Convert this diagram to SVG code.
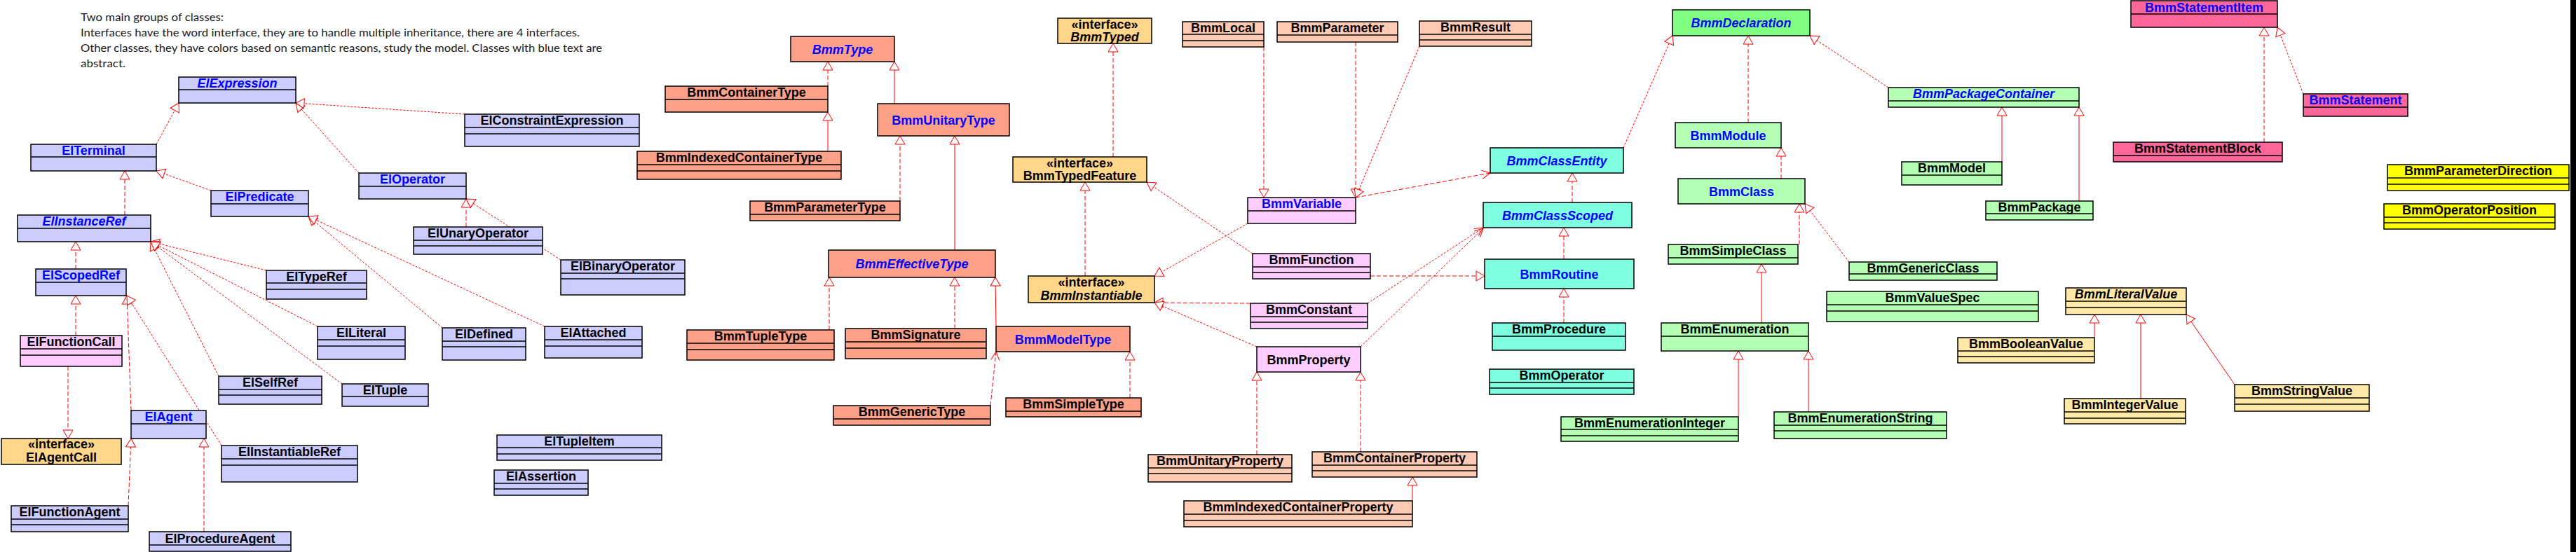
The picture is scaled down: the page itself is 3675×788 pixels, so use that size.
<svg xmlns="http://www.w3.org/2000/svg" width="3675" height="788" viewBox="0 0 3675 788">
<style>
rect{stroke:#000;stroke-width:1.5}
rect.bg{stroke:none}
.dv{stroke:#000;stroke-width:1.5}
.lav{fill:#CCCCFF}.pnk{fill:#FFCCFF}.ora{fill:#FFD68A}.sal{fill:#FFA088}.pch{fill:#FFCAB4}
.cya{fill:#7FFFE0}.grn{fill:#80FF80}.lgr{fill:#B4FFB4}.lye{fill:#FFE8A8}.hpk{fill:#FF6699}.yel{fill:#FFFF00}
text.n{font-family:"Liberation Sans",Arial,sans-serif;font-weight:bold;font-size:18px;text-anchor:middle;fill:#000}
text.b{fill:#0000FF}
text.i{font-style:italic}
.note{font-family:Lato,"Open Sans",sans-serif;font-size:15px;fill:#1a1a1a}
#connectors line{stroke:#FF0000;stroke-width:1;fill:none}
.d{stroke-dasharray:6 3}
.f{stroke-dasharray:3 2}
.t{marker-end:url(#tri)}
.a{marker-end:url(#arr)}
</style>
<defs>
<marker id="tri" viewBox="-14 -9 16 18" refX="0" refY="0" markerWidth="16" markerHeight="18" markerUnits="userSpaceOnUse" orient="auto"><path d="M0,0 L-12,-7 L-12,7 Z" fill="#fff" stroke="#f00" stroke-width="1"/></marker>
<marker id="arr" viewBox="-14 -9 16 18" refX="0" refY="0" markerWidth="16" markerHeight="18" markerUnits="userSpaceOnUse" orient="auto"><path d="M-12,-6 L0,0 L-12,6" fill="none" stroke="#f00" stroke-width="1"/></marker>
</defs>
<rect class="bg" x="0" y="0" width="3675" height="788" fill="#fff"/>
<rect class="bg" x="3667" y="0" width="8" height="788" fill="#000"/>
<g id="note">
<text class="note" x="115" y="30" textLength="204" lengthAdjust="spacingAndGlyphs">Two main groups of classes:</text>
<text class="note" x="115" y="52" textLength="712" lengthAdjust="spacingAndGlyphs">Interfaces have the word interface, they are to handle multiple inheritance, there are 4 interfaces.</text>
<text class="note" x="115" y="74" textLength="744" lengthAdjust="spacingAndGlyphs">Other classes, they have colors based on semantic reasons, study the model. Classes with blue text are</text>
<text class="note" x="115" y="96" textLength="64" lengthAdjust="spacingAndGlyphs">abstract.</text>
</g>
<g id="connectors">
<line class="f t" x1="223" y1="206" x2="255" y2="147"/>
<line class="f t" x1="512" y1="247" x2="422" y2="147"/>
<line class="f t" x1="663" y1="163" x2="422" y2="147"/>
<line class="f t" x1="301" y1="272" x2="223" y2="244"/>
<line class="d t" x1="178" y1="307" x2="178" y2="244"/>
<line class="d t" x1="108" y1="384" x2="108" y2="345"/>
<line class="f t" x1="380" y1="386" x2="215" y2="345"/>
<line class="f t" x1="453" y1="466" x2="215" y2="345"/>
<line class="f t" x1="312" y1="537" x2="215" y2="345"/>
<line class="f t" x1="488" y1="548" x2="215" y2="345"/>
<line class="d t" x1="108" y1="479" x2="108" y2="422"/>
<line class="d t" x1="97" y1="523" x2="97" y2="626"/>
<line class="d t" x1="187" y1="586" x2="181" y2="422"/>
<line class="f t" x1="316" y1="636" x2="181" y2="422"/>
<line class="d t" x1="183" y1="722" x2="187" y2="626"/>
<line class="d t" x1="291" y1="759" x2="291" y2="626"/>
<line class="d t" x1="665" y1="324" x2="665" y2="284"/>
<line class="f t" x1="800" y1="371" x2="665" y2="284"/>
<line class="f t" x1="631" y1="468" x2="440" y2="309"/>
<line class="f t" x1="777" y1="466" x2="440" y2="309"/>
<line class="d t" x1="1181" y1="123" x2="1181" y2="88"/>
<line class="t" x1="1181" y1="216" x2="1181" y2="160"/>
<line class="t" x1="1276" y1="148" x2="1276" y2="88"/>
<line class="d t" x1="1284" y1="287" x2="1284" y2="194"/>
<line class="t" x1="1362" y1="357" x2="1362" y2="194"/>
<line class="d t" x1="1183" y1="471" x2="1183" y2="396"/>
<line class="d t" x1="1362" y1="469" x2="1362" y2="396"/>
<line class="t" x1="1421" y1="466" x2="1420" y2="396"/>
<line class="d a" x1="1413" y1="579" x2="1421" y2="502"/>
<line class="d t" x1="1612" y1="568" x2="1612" y2="502"/>
<line class="d t" x1="1588" y1="224" x2="1588" y2="62"/>
<line class="d t" x1="1548" y1="394" x2="1548" y2="260"/>
<line class="f t" x1="1787" y1="362" x2="1636" y2="260"/>
<line class="f t" x1="1780" y1="319" x2="1647" y2="394"/>
<line class="d t" x1="1784" y1="433" x2="1647" y2="432"/>
<line class="f t" x1="1793" y1="495" x2="1647" y2="432"/>
<line class="d t" x1="1803" y1="67" x2="1803" y2="282"/>
<line class="d t" x1="1934" y1="60" x2="1934" y2="282"/>
<line class="f t" x1="2025" y1="66" x2="1934" y2="282"/>
<line class="d a" x1="1934" y1="282" x2="2126" y2="247"/>
<line class="d t" x1="2243" y1="289" x2="2243" y2="247"/>
<line class="f t" x1="2316" y1="211" x2="2386" y2="51"/>
<line class="d t" x1="2231" y1="370" x2="2231" y2="325"/>
<line class="d t" x1="1955" y1="394" x2="2118" y2="394"/>
<line class="f a" x1="1951" y1="433" x2="2116" y2="325"/>
<line class="f a" x1="1941" y1="495" x2="2116" y2="326"/>
<line class="d t" x1="1793" y1="649" x2="1793" y2="531"/>
<line class="d t" x1="1941" y1="645" x2="1941" y2="531"/>
<line class="t" x1="2015" y1="715" x2="2015" y2="681"/>
<line class="d t" x1="2231" y1="461" x2="2231" y2="412"/>
<line class="d t" x1="2494" y1="175" x2="2494" y2="51"/>
<line class="f t" x1="2694" y1="125" x2="2582" y2="51"/>
<line class="t" x1="2856" y1="231" x2="2856" y2="153"/>
<line class="t" x1="2966" y1="287" x2="2966" y2="153"/>
<line class="d t" x1="2541" y1="255" x2="2541" y2="211"/>
<line class="d t" x1="2567" y1="349" x2="2567" y2="291"/>
<line class="f t" x1="2638" y1="374" x2="2575" y2="291"/>
<line class="t" x1="2513" y1="461" x2="2513" y2="377"/>
<line class="t" x1="2480" y1="595" x2="2480" y2="501"/>
<line class="t" x1="2580" y1="588" x2="2580" y2="501"/>
<line class="t" x1="2988" y1="482" x2="2988" y2="449"/>
<line class="t" x1="3054" y1="569" x2="3054" y2="449"/>
<line class="t" x1="3188" y1="549" x2="3119" y2="449"/>
<line class="d t" x1="3230" y1="203" x2="3230" y2="39"/>
<line class="f t" x1="3286" y1="134" x2="3249" y2="39"/>
</g>
<g id="ElExpression"><rect class="lav" x="255" y="110" width="167" height="37"/><line class="dv" x1="255" y1="128" x2="422" y2="128"/><text class="n b i" x="338.5" y="125">ElExpression</text></g>
<g id="ElTerminal"><rect class="lav" x="44" y="206" width="179" height="38"/><line class="dv" x1="44" y1="224" x2="223" y2="224"/><text class="n b" x="133.5" y="221">ElTerminal</text></g>
<g id="ElPredicate"><rect class="lav" x="301" y="272" width="139" height="37"/><line class="dv" x1="301" y1="291" x2="440" y2="291"/><text class="n b" x="370.5" y="287">ElPredicate</text></g>
<g id="ElOperator"><rect class="lav" x="512" y="247" width="153" height="37"/><line class="dv" x1="512" y1="266" x2="665" y2="266"/><text class="n b" x="588.5" y="262">ElOperator</text></g>
<g id="ElInstanceRef"><rect class="lav" x="25" y="307" width="190" height="38"/><line class="dv" x1="25" y1="326" x2="215" y2="326"/><text class="n b i" x="120" y="322">ElInstanceRef</text></g>
<g id="ElConstraintExpression"><rect class="lav" x="663" y="163" width="249" height="46"/><line class="dv" x1="663" y1="182" x2="912" y2="182"/><line class="dv" x1="663" y1="191" x2="912" y2="191"/><text class="n" x="787.5" y="178">ElConstraintExpression</text></g>
<g id="ElUnaryOperator"><rect class="lav" x="590" y="324" width="184" height="39"/><line class="dv" x1="590" y1="343" x2="774" y2="343"/><line class="dv" x1="590" y1="351" x2="774" y2="351"/><text class="n" x="682" y="339">ElUnaryOperator</text></g>
<g id="ElBinaryOperator"><rect class="lav" x="800" y="371" width="177" height="50"/><line class="dv" x1="800" y1="390" x2="977" y2="390"/><line class="dv" x1="800" y1="398" x2="977" y2="398"/><text class="n" x="888.5" y="386">ElBinaryOperator</text></g>
<g id="ElScopedRef"><rect class="lav" x="51" y="384" width="129" height="38"/><line class="dv" x1="51" y1="403" x2="180" y2="403"/><text class="n b" x="115.5" y="399">ElScopedRef</text></g>
<g id="ElTypeRef"><rect class="lav" x="380" y="386" width="143" height="41"/><line class="dv" x1="380" y1="404" x2="523" y2="404"/><line class="dv" x1="380" y1="413" x2="523" y2="413"/><text class="n" x="451.5" y="401">ElTypeRef</text></g>
<g id="ElFunctionCall"><rect class="pnk" x="29" y="479" width="145" height="44"/><line class="dv" x1="29" y1="498" x2="174" y2="498"/><line class="dv" x1="29" y1="507" x2="174" y2="507"/><text class="n" x="101.5" y="494">ElFunctionCall</text></g>
<g id="ElLiteral"><rect class="lav" x="453" y="466" width="125" height="47"/><line class="dv" x1="453" y1="485" x2="578" y2="485"/><line class="dv" x1="453" y1="494" x2="578" y2="494"/><text class="n" x="515.5" y="481">ElLiteral</text></g>
<g id="ElDefined"><rect class="lav" x="631" y="468" width="119" height="46"/><line class="dv" x1="631" y1="487" x2="750" y2="487"/><line class="dv" x1="631" y1="495" x2="750" y2="495"/><text class="n" x="690.5" y="483">ElDefined</text></g>
<g id="ElAttached"><rect class="lav" x="777" y="466" width="139" height="45"/><line class="dv" x1="777" y1="485" x2="916" y2="485"/><line class="dv" x1="777" y1="494" x2="916" y2="494"/><text class="n" x="846.5" y="481">ElAttached</text></g>
<g id="ElSelfRef"><rect class="lav" x="312" y="537" width="147" height="40"/><line class="dv" x1="312" y1="556" x2="459" y2="556"/><line class="dv" x1="312" y1="564" x2="459" y2="564"/><text class="n" x="385.5" y="552">ElSelfRef</text></g>
<g id="ElTuple"><rect class="lav" x="488" y="548" width="123" height="32"/><line class="dv" x1="488" y1="566" x2="611" y2="566"/><text class="n" x="549.5" y="563">ElTuple</text></g>
<g id="ElAgent"><rect class="lav" x="187" y="586" width="107" height="40"/><line class="dv" x1="187" y1="605" x2="294" y2="605"/><text class="n b" x="240.5" y="601">ElAgent</text></g>
<g id="ElAgentCall"><rect class="ora" x="2" y="626" width="171" height="37"/><text class="n" x="87.5" y="640">«interface»</text><text class="n" x="87.5" y="659">ElAgentCall</text></g>
<g id="ElInstantiableRef"><rect class="lav" x="316" y="636" width="194" height="52"/><line class="dv" x1="316" y1="655" x2="510" y2="655"/><line class="dv" x1="316" y1="664" x2="510" y2="664"/><text class="n" x="413" y="651">ElInstantiableRef</text></g>
<g id="ElTupleItem"><rect class="lav" x="709" y="621" width="235" height="36"/><line class="dv" x1="709" y1="639" x2="944" y2="639"/><line class="dv" x1="709" y1="648" x2="944" y2="648"/><text class="n" x="826.5" y="636">ElTupleItem</text></g>
<g id="ElAssertion"><rect class="lav" x="705" y="671" width="134" height="36"/><line class="dv" x1="705" y1="690" x2="839" y2="690"/><line class="dv" x1="705" y1="698" x2="839" y2="698"/><text class="n" x="772" y="686">ElAssertion</text></g>
<g id="ElFunctionAgent"><rect class="lav" x="16" y="722" width="167" height="37"/><line class="dv" x1="16" y1="741" x2="183" y2="741"/><line class="dv" x1="16" y1="749" x2="183" y2="749"/><text class="n" x="99.5" y="737">ElFunctionAgent</text></g>
<g id="ElProcedureAgent"><rect class="lav" x="213" y="759" width="202" height="28"/><line class="dv" x1="213" y1="778" x2="415" y2="778"/><text class="n" x="314" y="775">ElProcedureAgent</text></g>
<g id="BmmType"><rect class="sal" x="1128" y="52" width="148" height="36"/><text class="n b i" x="1202" y="76.5">BmmType</text></g>
<g id="BmmContainerType"><rect class="sal" x="949" y="123" width="232" height="37"/><line class="dv" x1="949" y1="142" x2="1181" y2="142"/><text class="n" x="1065" y="138">BmmContainerType</text></g>
<g id="BmmIndexedContainerType"><rect class="sal" x="909" y="216" width="291" height="40"/><line class="dv" x1="909" y1="235" x2="1200" y2="235"/><line class="dv" x1="909" y1="244" x2="1200" y2="244"/><text class="n" x="1054.5" y="231">BmmIndexedContainerType</text></g>
<g id="BmmParameterType"><rect class="sal" x="1070" y="287" width="214" height="28"/><line class="dv" x1="1070" y1="306" x2="1284" y2="306"/><text class="n" x="1177" y="302">BmmParameterType</text></g>
<g id="BmmUnitaryType"><rect class="sal" x="1252" y="148" width="188" height="46"/><text class="n b" x="1346" y="177.5">BmmUnitaryType</text></g>
<g id="BmmEffectiveType"><rect class="sal" x="1182" y="357" width="238" height="39"/><text class="n b i" x="1301" y="383">BmmEffectiveType</text></g>
<g id="BmmTupleType"><rect class="sal" x="980" y="471" width="210" height="43"/><line class="dv" x1="980" y1="490" x2="1190" y2="490"/><line class="dv" x1="980" y1="499" x2="1190" y2="499"/><text class="n" x="1085" y="486">BmmTupleType</text></g>
<g id="BmmSignature"><rect class="sal" x="1206" y="469" width="201" height="43"/><line class="dv" x1="1206" y1="488" x2="1407" y2="488"/><line class="dv" x1="1206" y1="497" x2="1407" y2="497"/><text class="n" x="1306.5" y="484">BmmSignature</text></g>
<g id="BmmModelType"><rect class="sal" x="1421" y="466" width="191" height="36"/><text class="n b" x="1516.5" y="490.5">BmmModelType</text></g>
<g id="BmmGenericType"><rect class="sal" x="1189" y="579" width="224" height="28"/><line class="dv" x1="1189" y1="598" x2="1413" y2="598"/><text class="n" x="1301" y="594">BmmGenericType</text></g>
<g id="BmmSimpleType"><rect class="sal" x="1435" y="568" width="193" height="27"/><line class="dv" x1="1435" y1="587" x2="1628" y2="587"/><text class="n" x="1531.5" y="583">BmmSimpleType</text></g>
<g id="BmmTyped"><rect class="ora" x="1509" y="26" width="134" height="36"/><text class="n" x="1576" y="41">«interface»</text><text class="n i" x="1576" y="59">BmmTyped</text></g>
<g id="BmmTypedFeature"><rect class="ora" x="1445" y="224" width="191" height="36"/><text class="n" x="1540.5" y="239">«interface»</text><text class="n" x="1540.5" y="257">BmmTypedFeature</text></g>
<g id="BmmInstantiable"><rect class="ora" x="1467" y="394" width="180" height="38"/><text class="n" x="1557" y="409">«interface»</text><text class="n i" x="1557" y="428">BmmInstantiable</text></g>
<g id="BmmLocal"><rect class="pch" x="1687" y="31" width="116" height="36"/><line class="dv" x1="1687" y1="49" x2="1803" y2="49"/><line class="dv" x1="1687" y1="58" x2="1803" y2="58"/><text class="n" x="1745" y="46">BmmLocal</text></g>
<g id="BmmParameter"><rect class="pch" x="1822" y="31" width="172" height="29"/><line class="dv" x1="1822" y1="50" x2="1994" y2="50"/><text class="n" x="1908" y="46">BmmParameter</text></g>
<g id="BmmResult"><rect class="pch" x="2025" y="30" width="160" height="36"/><line class="dv" x1="2025" y1="49" x2="2185" y2="49"/><line class="dv" x1="2025" y1="57" x2="2185" y2="57"/><text class="n" x="2105" y="45">BmmResult</text></g>
<g id="BmmVariable"><rect class="pnk" x="1780" y="282" width="154" height="37"/><line class="dv" x1="1780" y1="301" x2="1934" y2="301"/><text class="n b" x="1857" y="297">BmmVariable</text></g>
<g id="BmmFunction"><rect class="pnk" x="1787" y="362" width="168" height="36"/><line class="dv" x1="1787" y1="381" x2="1955" y2="381"/><line class="dv" x1="1787" y1="389" x2="1955" y2="389"/><text class="n" x="1871" y="377">BmmFunction</text></g>
<g id="BmmConstant"><rect class="pnk" x="1784" y="433" width="167" height="36"/><line class="dv" x1="1784" y1="452" x2="1951" y2="452"/><line class="dv" x1="1784" y1="460" x2="1951" y2="460"/><text class="n" x="1867.5" y="448">BmmConstant</text></g>
<g id="BmmProperty"><rect class="pnk" x="1793" y="495" width="148" height="36"/><text class="n" x="1867" y="519.5">BmmProperty</text></g>
<g id="BmmUnitaryProperty"><rect class="pch" x="1638" y="649" width="205" height="39"/><line class="dv" x1="1638" y1="668" x2="1843" y2="668"/><line class="dv" x1="1638" y1="676" x2="1843" y2="676"/><text class="n" x="1740.5" y="664">BmmUnitaryProperty</text></g>
<g id="BmmContainerProperty"><rect class="pch" x="1872" y="645" width="235" height="36"/><line class="dv" x1="1872" y1="664" x2="2107" y2="664"/><line class="dv" x1="1872" y1="672" x2="2107" y2="672"/><text class="n" x="1989.5" y="660">BmmContainerProperty</text></g>
<g id="BmmIndexedContainerProperty"><rect class="pch" x="1689" y="715" width="326" height="37"/><line class="dv" x1="1689" y1="734" x2="2015" y2="734"/><line class="dv" x1="1689" y1="743" x2="2015" y2="743"/><text class="n" x="1852" y="730">BmmIndexedContainerProperty</text></g>
<g id="BmmClassEntity"><rect class="cya" x="2126" y="211" width="190" height="36"/><text class="n b i" x="2221" y="235.5">BmmClassEntity</text></g>
<g id="BmmClassScoped"><rect class="cya" x="2116" y="289" width="212" height="36"/><text class="n b i" x="2222" y="313.5">BmmClassScoped</text></g>
<g id="BmmRoutine"><rect class="cya" x="2118" y="370" width="213" height="42"/><text class="n b" x="2224.5" y="397.5">BmmRoutine</text></g>
<g id="BmmProcedure"><rect class="cya" x="2129" y="461" width="190" height="39"/><line class="dv" x1="2129" y1="480" x2="2319" y2="480"/><text class="n" x="2224" y="476">BmmProcedure</text></g>
<g id="BmmOperator"><rect class="cya" x="2125" y="527" width="206" height="36"/><line class="dv" x1="2125" y1="546" x2="2331" y2="546"/><line class="dv" x1="2125" y1="554" x2="2331" y2="554"/><text class="n" x="2228" y="542">BmmOperator</text></g>
<g id="BmmDeclaration"><rect class="grn" x="2386" y="14" width="196" height="37"/><text class="n b i" x="2484" y="39">BmmDeclaration</text></g>
<g id="BmmModule"><rect class="lgr" x="2390" y="175" width="151" height="36"/><text class="n b" x="2465.5" y="199.5">BmmModule</text></g>
<g id="BmmClass"><rect class="lgr" x="2394" y="255" width="181" height="36"/><text class="n b" x="2484.5" y="279.5">BmmClass</text></g>
<g id="BmmPackageContainer"><rect class="lgr" x="2694" y="125" width="272" height="28"/><line class="dv" x1="2694" y1="144" x2="2966" y2="144"/><text class="n b i" x="2830" y="140">BmmPackageContainer</text></g>
<g id="BmmModel"><rect class="lgr" x="2713" y="231" width="143" height="33"/><line class="dv" x1="2713" y1="250" x2="2856" y2="250"/><text class="n" x="2784.5" y="246">BmmModel</text></g>
<g id="BmmPackage"><rect class="lgr" x="2833" y="287" width="153" height="27"/><line class="dv" x1="2833" y1="305" x2="2986" y2="305"/><text class="n" x="2909.5" y="302">BmmPackage</text></g>
<g id="BmmSimpleClass"><rect class="lgr" x="2380" y="349" width="185" height="28"/><line class="dv" x1="2380" y1="368" x2="2565" y2="368"/><text class="n" x="2472.5" y="364">BmmSimpleClass</text></g>
<g id="BmmGenericClass"><rect class="lgr" x="2638" y="374" width="211" height="26"/><line class="dv" x1="2638" y1="391" x2="2849" y2="391"/><text class="n" x="2743.5" y="389">BmmGenericClass</text></g>
<g id="BmmEnumeration"><rect class="lgr" x="2370" y="461" width="210" height="40"/><line class="dv" x1="2370" y1="480" x2="2580" y2="480"/><text class="n" x="2475" y="476">BmmEnumeration</text></g>
<g id="BmmValueSpec"><rect class="lgr" x="2606" y="416" width="302" height="43"/><line class="dv" x1="2606" y1="435" x2="2908" y2="435"/><line class="dv" x1="2606" y1="444" x2="2908" y2="444"/><text class="n" x="2757" y="431">BmmValueSpec</text></g>
<g id="BmmEnumerationInteger"><rect class="lgr" x="2227" y="595" width="253" height="35"/><line class="dv" x1="2227" y1="613" x2="2480" y2="613"/><line class="dv" x1="2227" y1="622" x2="2480" y2="622"/><text class="n" x="2353.5" y="610">BmmEnumerationInteger</text></g>
<g id="BmmEnumerationString"><rect class="lgr" x="2531" y="588" width="246" height="38"/><line class="dv" x1="2531" y1="607" x2="2777" y2="607"/><line class="dv" x1="2531" y1="615" x2="2777" y2="615"/><text class="n" x="2654" y="603">BmmEnumerationString</text></g>
<g id="BmmLiteralValue"><rect class="lye" x="2947" y="411" width="172" height="38"/><line class="dv" x1="2947" y1="430" x2="3119" y2="430"/><line class="dv" x1="2947" y1="439" x2="3119" y2="439"/><text class="n i" x="3033" y="426">BmmLiteralValue</text></g>
<g id="BmmBooleanValue"><rect class="lye" x="2793" y="482" width="195" height="36"/><line class="dv" x1="2793" y1="501" x2="2988" y2="501"/><line class="dv" x1="2793" y1="509" x2="2988" y2="509"/><text class="n" x="2890.5" y="497">BmmBooleanValue</text></g>
<g id="BmmIntegerValue"><rect class="lye" x="2945" y="569" width="173" height="36"/><line class="dv" x1="2945" y1="588" x2="3118" y2="588"/><line class="dv" x1="2945" y1="597" x2="3118" y2="597"/><text class="n" x="3031.5" y="584">BmmIntegerValue</text></g>
<g id="BmmStringValue"><rect class="lye" x="3188" y="549" width="192" height="38"/><line class="dv" x1="3188" y1="568" x2="3380" y2="568"/><line class="dv" x1="3188" y1="577" x2="3380" y2="577"/><text class="n" x="3284" y="564">BmmStringValue</text></g>
<g id="BmmStatementItem"><rect class="hpk" x="3040" y="1" width="209" height="38"/><line class="dv" x1="3040" y1="20" x2="3249" y2="20"/><text class="n b" x="3144.5" y="17">BmmStatementItem</text></g>
<g id="BmmStatement"><rect class="hpk" x="3286" y="134" width="149" height="32"/><line class="dv" x1="3286" y1="153" x2="3435" y2="153"/><text class="n b" x="3360.5" y="149">BmmStatement</text></g>
<g id="BmmStatementBlock"><rect class="hpk" x="3015" y="203" width="241" height="28"/><line class="dv" x1="3015" y1="222" x2="3256" y2="222"/><text class="n" x="3135.5" y="218">BmmStatementBlock</text></g>
<g id="BmmParameterDirection"><rect class="yel" x="3406" y="235" width="259" height="37"/><line class="dv" x1="3406" y1="254" x2="3665" y2="254"/><line class="dv" x1="3406" y1="263" x2="3665" y2="263"/><text class="n" x="3535.5" y="250">BmmParameterDirection</text></g>
<g id="BmmOperatorPosition"><rect class="yel" x="3401" y="291" width="244" height="36"/><line class="dv" x1="3401" y1="310" x2="3645" y2="310"/><line class="dv" x1="3401" y1="318" x2="3645" y2="318"/><text class="n" x="3523" y="306">BmmOperatorPosition</text></g>
</svg>
